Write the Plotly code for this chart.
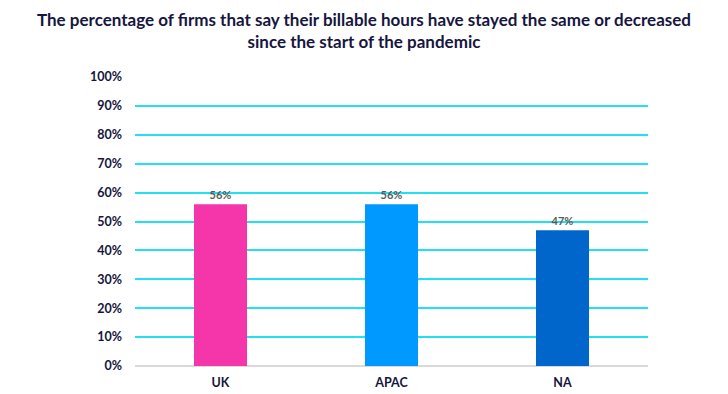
import plotly.graph_objects as go

categories = ["UK", "APAC", "NA"]
values = [56, 56, 47]
labels = ["56%", "56%", "47%"]
colors = ["#F535AA", "#0099FF", "#0066CC"]
tick_vals = [0, 10, 20, 30, 40, 50, 60, 70, 80, 90, 100]
tick_text = [f"{v}%" for v in tick_vals]

fig = go.Figure(go.Bar(
    x=categories, y=values, marker=dict(color=colors, line=dict(width=0)),
    text=labels, textposition="outside", cliponaxis=False,
    textfont=dict(family="Lato", size=11, color="#595959", weight="bold"),
    width=0.31,
))
fig.update_layout(
    width=728, height=394,
    paper_bgcolor="white", plot_bgcolor="white",
    margin=dict(l=127, r=88, t=69, b=28),
    title=dict(
        text="<b>The percentage of firms that say their billable hours have stayed the same or decreased<br>since the start of the pandemic</b>",
        x=0.489, xanchor="center", y=0.955, yanchor="top",
        font=dict(family="Lato", size=17, color="#16163F"),
    ),
    showlegend=False,
    font=dict(family="Lato"),
)
fig.update_yaxes(
    range=[0, 100], tickvals=tick_vals, ticktext=tick_text,
    showgrid=True, gridcolor="#22E0F0", gridwidth=1.5,
    zeroline=True, zerolinecolor="#D9D9D9", zerolinewidth=2,
    tickfont=dict(family="Lato", size=12.5, color="#14143C", weight="bold"),
    ticklabelstandoff=12,
)
fig.update_xaxes(
    tickfont=dict(family="Lato", size=12.5, color="#14143C", weight="bold"),
    showline=False, ticklabelstandoff=7,
)
fig.write_html("out.html")
